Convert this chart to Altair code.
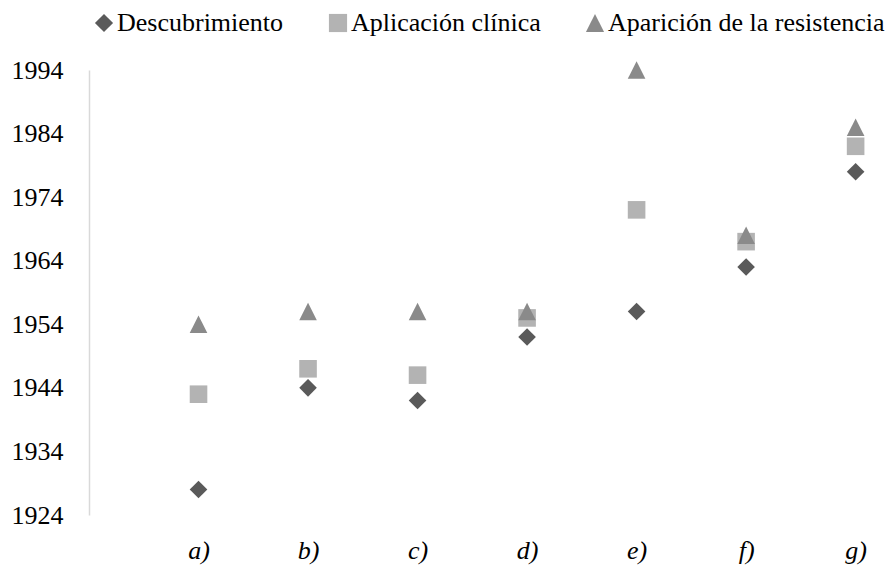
import altair as alt
import pandas as pd

categories = ["a)", "b)", "c)", "d)", "e)", "f)", "g)"]
x_index = [1, 2, 3, 4, 5, 6, 7]
descubrimiento = [1928, 1944, 1942, 1952, 1956, 1963, 1978]
aplicacion = [1943, 1947, 1946, 1955, 1972, 1967, 1982]
resistencia = [1954, 1956, 1956, 1956, 1994, 1968, 1985]
series = ["Descubrimiento", "Aplicación clínica", "Aparición de la resistencia"]
colors = ["#5a5a5a", "#b3b3b3", "#8a8a8a"]
shapes = ["diamond", "square", "M0,-1L1,1L-1,1Z"]
y_ticks = [1924, 1934, 1944, 1954, 1964, 1974, 1984, 1994]

rows = []
for s, vals in zip(series, [descubrimiento, aplicacion, resistencia]):
    for i, (c, v) in enumerate(zip(categories, vals)):
        rows.append({"serie": s, "pos": x_index[i], "cat": c, "anio": v})
df = pd.DataFrame(rows)

label_expr = "[" + ",".join("'" + c + "'" for c in categories) + "][datum.value - 1]"
FONT = "'Liberation Serif', 'Times New Roman', Times, serif"

leg = alt.Legend(title=None, orient="none", legendX=2, legendY=-60,
                 direction="horizontal")

chart = alt.Chart(df).mark_point(filled=True, opacity=1, size=310, strokeWidth=0).encode(
    x=alt.X("pos:Q",
            scale=alt.Scale(domain=[0, 7.25], nice=False, zero=False),
            axis=alt.Axis(values=x_index, labelExpr=label_expr, title=None,
                          domain=False, ticks=False, tickSize=0, grid=False,
                          labelFont=FONT, labelFontSize=26, labelFontStyle="italic",
                          labelColor="#000000", labelPadding=22,
                          labelFlush=False, labelOverlap=False)),
    y=alt.Y("anio:Q",
            scale=alt.Scale(domain=[1924, 1994], nice=False, zero=False),
            axis=alt.Axis(values=y_ticks, format="d", title=None, grid=False,
                          ticks=False, tickSize=0, domainColor="#d9d9d9", domainWidth=1.5,
                          labelFont=FONT, labelFontSize=26, labelPadding=26,
                          labelColor="#000000", labelFlush=False, labelOverlap=False)),
    color=alt.Color("serie:N", scale=alt.Scale(domain=series, range=colors), legend=leg),
    shape=alt.Shape("serie:N", scale=alt.Scale(domain=series, range=shapes), legend=leg),
).properties(
    width=794, height=445,
    autosize=alt.AutoSizeParams(type="none"),
    padding={"left": 81, "top": 62, "right": 4, "bottom": 50},
    background="white",
).configure_view(stroke=None).configure_legend(
    labelFont=FONT, labelFontSize=26, labelColor="#000000", labelOffset=0,
    symbolSize=330, symbolStrokeWidth=0, columnPadding=41, padding=0,
    labelLimit=0,
)

chart.save("out.html", embed_options={"renderer": "svg", "actions": False})
